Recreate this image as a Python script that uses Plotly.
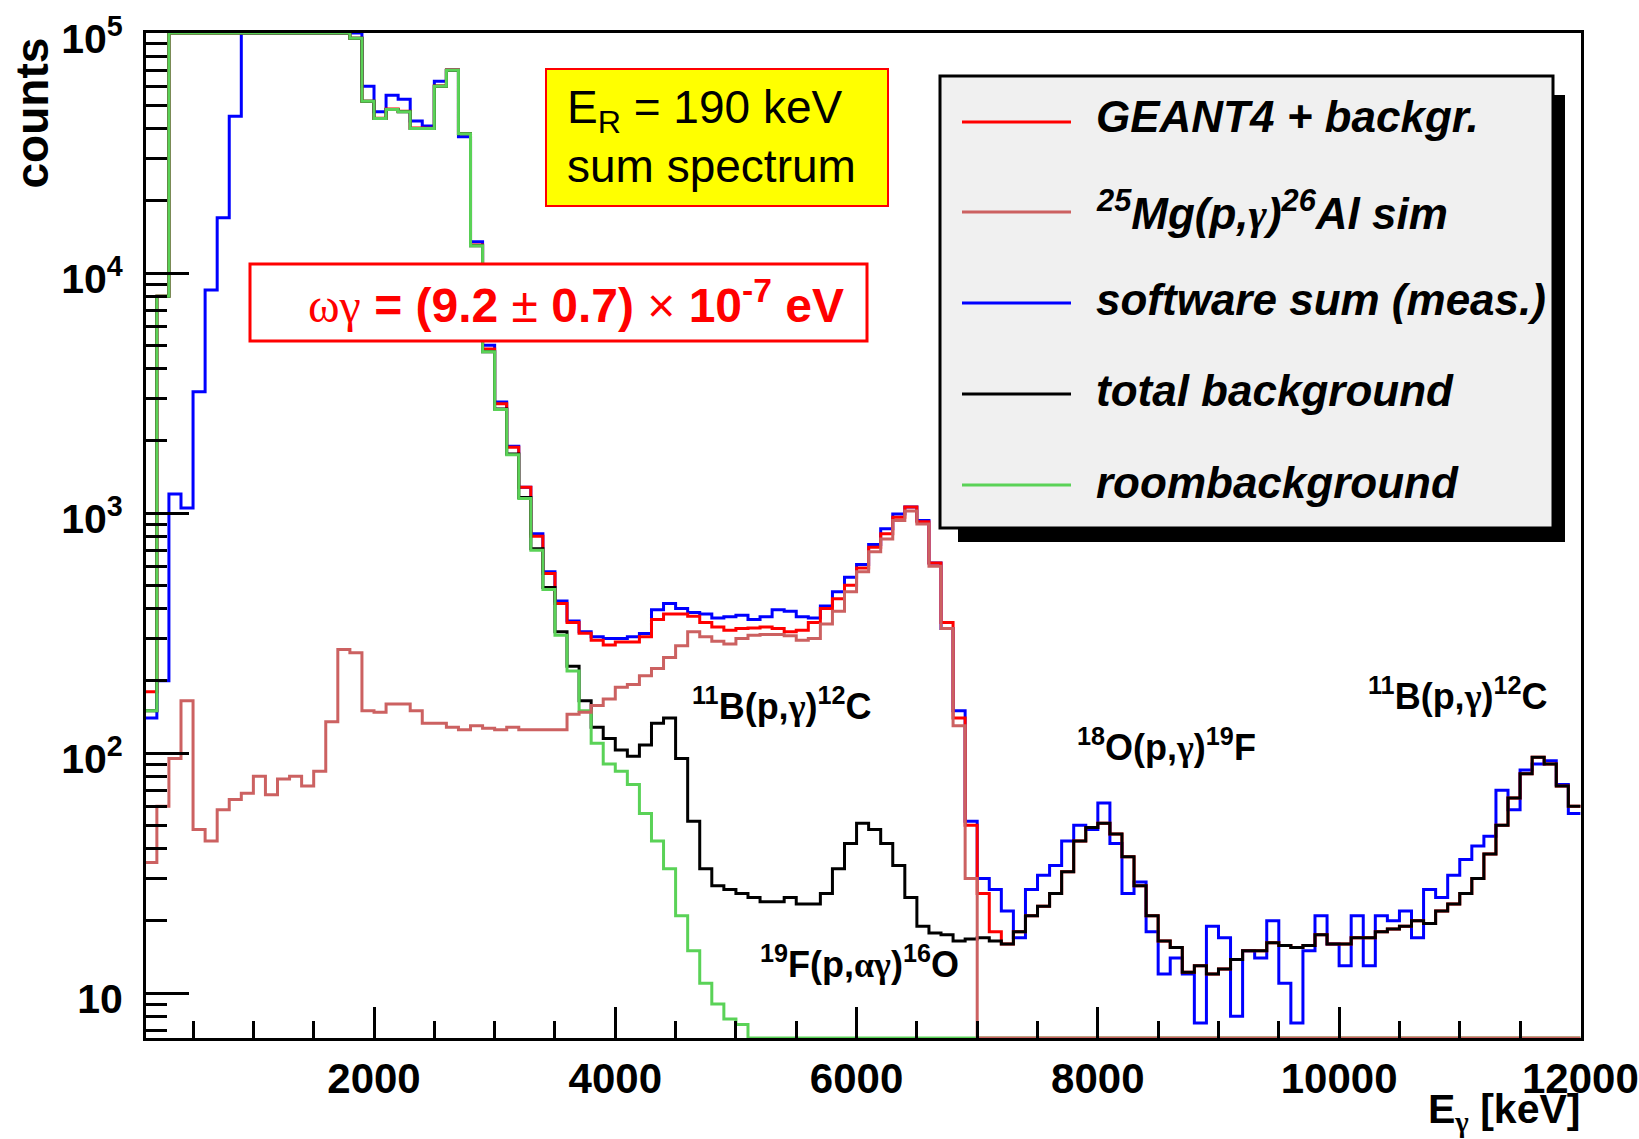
import numpy as np
import plotly.graph_objects as go

# ---------------- data ----------------
# 100 keV histogram bins, lower edge of first bin = 100 keV, 119 bins up to 12000 keV
BIN_LO = 100
BIN_WIDTH = 100
N_BINS = 119

# y-range of the log axis
COUNTS_MIN = 6.5
COUNTS_MAX = 1e5
E_MIN = 110
E_MAX = 12005

# GEANT4 + backgr. (red)
geant4_plus_backgr = [
    180, 8000, 1e5, 1e5, 1e5, 1e5, 1e5, 1e5, 1e5,                           # 100-1000
    1e5, 1e5, 1e5, 1e5, 1e5, 1e5, 1e5, 1e5, 95000, 52000,                    # 1000-2000
    44100, 48200, 47200, 40200, 40100, 60100, 70100, 38100, 13100, 4830,     # 2000-3000
    2850, 1880, 1280, 800, 560, 420, 350, 316, 295, 282,                     # 3000-4000
    290, 290, 305, 360, 380, 380, 372, 350, 335, 325,                        # 4000-5000
    330, 332, 335, 330, 320, 325, 350, 400, 440, 500,                        # 5000-6000
    590, 720, 820, 960, 1060, 920, 620, 350, 140, 50,                        # 6000-7000
    26, 18, 16, 18, 21, 23, 26, 32, 43, 49,                                  # 7000-8000
    51, 46, 37, 28, 21, 16.5, 15.5, 12.2, 13, 12,                            # 8000-9000
    12.6, 13.8, 15, 15, 16.2, 15.8, 15.5, 15.8, 17.5, 16,                    # 9000-10000
    16, 17, 17, 18, 18.5, 19, 20, 19.5, 22, 23.5,                            # 10000-11000
    26, 30, 38, 50, 65, 82, 96, 90, 73, 60,                                  # 11000-12000
]

# 25Mg(p,gamma)26Al sim (rosy)
mg25_sim = [
    35, 60, 95, 165, 48, 43, 58, 64, 68,
    80, 67, 78, 80, 73, 84, 135, 270, 262, 150,
    148, 160, 160, 150, 133, 133, 128, 125, 130, 127,
    125, 128, 125, 125, 125, 125, 145, 148, 158, 168,
    188, 193, 210, 225, 250, 280, 320, 305, 292, 285,
    300, 310, 312, 312, 308, 295, 300, 345, 390, 470,
    570, 690, 780, 930, 1020, 900, 600, 330, 130, 30,
    0, 0, 0, 0, 0, 0, 0, 0, 0, 0,
    0, 0, 0, 0, 0, 0, 0, 0, 0, 0,
    0, 0, 0, 0, 0, 0, 0, 0, 0, 0,
    0, 0, 0, 0, 0, 0, 0, 0, 0, 0,
    0, 0, 0, 0, 0, 0, 0, 0, 0, 0,
]

# software sum (meas.) (blue)
software_sum = [
    140, 200, 1200, 1050, 3200, 8500, 17000, 45000, 1e5,
    1e5, 1e5, 1e5, 1e5, 1e5, 1e5, 1e5, 1e5, 1e5, 60000,
    47000, 55000, 53000, 43000, 41000, 63000, 70000, 37000, 13500, 5000,
    2900, 1900, 1280, 820, 570, 430, 355, 320, 305, 300,
    300, 305, 315, 395, 420, 400, 385, 380, 365, 370,
    375, 360, 370, 395, 390, 370, 365, 410, 470, 540,
    610, 740, 860, 990, 1060, 930, 620, 330, 150, 52,
    30, 27, 22, 17, 27, 31, 34, 43, 50, 48,
    62, 42, 26, 29, 18, 12, 14, 12, 7.5, 19,
    17, 8, 15, 14, 20, 11, 7.5, 15, 21, 16,
    13, 21, 13, 21, 20, 22, 17, 27, 25, 31,
    36, 41, 45, 70, 58, 85, 90, 93, 74, 56,
]

# total background (black)
total_background = [
    150, 8000, 1e5, 1e5, 1e5, 1e5, 1e5, 1e5, 1e5,
    1e5, 1e5, 1e5, 1e5, 1e5, 1e5, 1e5, 1e5, 95000, 52000,
    44000, 48000, 47000, 40000, 40000, 60000, 70000, 38000, 13000, 4700,
    2710, 1760, 1160, 710, 490, 320, 230, 165, 128, 115,
    103, 97, 108, 133, 140, 95, 52, 33, 28, 27,
    26, 25, 24, 24, 25, 23.5, 23.5, 26, 33, 42,
    51, 48, 42, 34, 25, 19, 17.8, 17.5, 16.5, 16.8,
    17, 16.5, 16, 18, 21, 23, 26, 32, 43, 49,
    51, 46, 37, 28, 21, 16.5, 15.5, 12.2, 13, 12,
    12.6, 13.8, 15, 15, 16.2, 15.8, 15.5, 15.8, 17.5, 16,
    16, 17, 17, 18, 18.5, 19, 20, 19.5, 22, 23.5,
    26, 30, 38, 50, 65, 82, 96, 90, 73, 60,
]

# roombackground (green)
room_background = [
    150, 8000, 1e5, 1e5, 1e5, 1e5, 1e5, 1e5, 1e5,
    1e5, 1e5, 1e5, 1e5, 1e5, 1e5, 1e5, 1e5, 95000, 52000,
    44000, 48000, 47000, 40000, 40000, 60000, 70000, 38000, 13000, 4700,
    2700, 1750, 1150, 700, 480, 310, 220, 150, 110, 90,
    84, 74, 56, 43, 33, 21, 15, 11, 9, 7.8,
    7.4, 0, 0, 0, 0, 0, 0, 0, 0, 0,
    0, 0, 0, 0, 0, 0, 0, 0, 0, 0,
    0, 0, 0, 0, 0, 0, 0, 0, 0, 0,
    0, 0, 0, 0, 0, 0, 0, 0, 0, 0,
    0, 0, 0, 0, 0, 0, 0, 0, 0, 0,
    0, 0, 0, 0, 0, 0, 0, 0, 0, 0,
    0, 0, 0, 0, 0, 0, 0, 0, 0, 0,
]

x_tick_values = [2000, 4000, 6000, 8000, 10000, 12000]
x_tick_labels = ["2000", "4000", "6000", "8000", "10000", "12000"]
y_tick_values = [10, 100, 1000, 10000, 100000]
y_tick_labels = ["10", "10<sup>2</sup>", "10<sup>3</sup>", "10<sup>4</sup>", "10<sup>5</sup>"]
y_minor_values = [m * 10 ** d for d in range(0, 5) for m in range(2, 10) if COUNTS_MIN <= m * 10 ** d <= COUNTS_MAX]

SERIF_G = "<span style=\"font-family:'Liberation Serif'\">γ</span>"
SERIF_AG = "<span style=\"font-family:'Liberation Serif'\">αγ</span>"

legend_labels = [
    "GEANT4 + backgr.",
    f"<sup>25</sup>Mg(p,{SERIF_G})<sup>26</sup>Al sim",
    "software sum (meas.)",
    "total background",
    "roombackground",
]

COL_RED = "#ff0000"
COL_ROSY = "#cc6161"
COL_BLUE = "#0000ff"
COL_BLACK = "#000000"
COL_GREEN = "#5ad257"

# ---------------- figure ----------------
W, H = 1639, 1139
PL, PR, PT, PB = 146, 1581, 33, 1038


def px(x):
    return (x - PL) / (PR - PL)


def py(y):
    return (PB - y) / (PB - PT)


edges = BIN_LO + BIN_WIDTH * np.arange(N_BINS + 1)


def hist_xy(vals):
    v = np.asarray(vals, dtype=float)
    v = np.where(v > 0, v, COUNTS_MIN)          # empty bins drawn on the axis floor (as ROOT does)
    v = np.clip(v, COUNTS_MIN, COUNTS_MAX)      # overflow drawn on the frame top
    return edges, np.append(v, v[-1])


fig = go.Figure()
series = [
    ("software sum (meas.)", software_sum, COL_BLUE),
    ("GEANT4 + backgr.", geant4_plus_backgr, COL_RED),
    ("total background", total_background, COL_BLACK),
    ("roombackground", room_background, COL_GREEN),
    ("25Mg(p,γ)26Al sim", mg25_sim, COL_ROSY),
]
for name, vals, col in series:
    x, y = hist_xy(vals)
    fig.add_trace(go.Scatter(x=x, y=y, mode="lines", name=name,
                             line=dict(color=col, width=3, shape="hv"),
                             showlegend=False, hoverinfo="skip"))

FONT = "Liberation Sans, Arial, Helvetica, sans-serif"

fig.update_layout(
    width=W, height=H,
    margin=dict(l=PL, r=W - PR, t=PT, b=H - PB, autoexpand=False),
    paper_bgcolor="white", plot_bgcolor="white",
    showlegend=False,
    font=dict(family=FONT, color="black"),
)
fig.update_xaxes(
    range=[E_MIN, E_MAX], showgrid=False, zeroline=False, automargin=False,
    showline=True, linecolor="black", linewidth=3, mirror=True,
    tickmode="array", tickvals=x_tick_values, ticktext=x_tick_labels,
    ticks="inside", ticklen=31, tickwidth=3, tickcolor="black",
    tickfont=dict(family=FONT, size=42, color="black", weight="bold"),
    ticklabelstandoff=2, ticklabeloverflow="allow",
    minor=dict(tickmode="linear", tick0=0, dtick=500, ticks="inside",
               ticklen=17, tickwidth=3, tickcolor="black", showgrid=False),
)
fig.update_yaxes(
    type="log", range=[np.log10(COUNTS_MIN), np.log10(COUNTS_MAX)],
    showgrid=False, zeroline=False, automargin=False,
    showline=True, linecolor="black", linewidth=3, mirror=True,
    tickmode="array", tickvals=y_tick_values, ticktext=y_tick_labels,
    ticks="inside", ticklen=43, tickwidth=3, tickcolor="black",
    tickfont=dict(family=FONT, size=41, color="black", weight="bold"),
    ticklabelstandoff=12, ticklabelshift=6, ticklabeloverflow="allow",
    minor=dict(tickmode="array", tickvals=y_minor_values, ticks="inside",
               ticklen=21, tickwidth=3, tickcolor="black", showgrid=False),
)

shapes = []
annotations = []

# axis titles
annotations.append(dict(xref="paper", yref="paper", x=px(31), y=py(36),
                        xanchor="center", yanchor="top", textangle=-90, showarrow=False,
                        text="<b>counts</b>", font=dict(family=FONT, size=46, color="black")))
annotations.append(dict(xref="paper", yref="paper", x=px(1582), y=py(1112),
                        xanchor="right", yanchor="middle", showarrow=False,
                        text=f"<b>E<sub>{SERIF_G}</sub> [keV]</b>",
                        font=dict(family=FONT, size=41, color="black")))

# yellow info box
shapes.append(dict(type="rect", xref="paper", yref="paper", layer="above",
                   x0=px(546), x1=px(888), y0=py(206), y1=py(69),
                   fillcolor="#ffff00", line=dict(color="#ff0000", width=2)))
annotations.append(dict(xref="paper", yref="paper", x=px(565), y=py(110),
                        xanchor="left", yanchor="middle", showarrow=False,
                        text="E<sub>R</sub> = 190 keV", font=dict(family=FONT, size=46, color="black")))
annotations.append(dict(xref="paper", yref="paper", x=px(565), y=py(166),
                        xanchor="left", yanchor="middle", showarrow=False,
                        text="sum spectrum", font=dict(family=FONT, size=46, color="black")))

# resonance strength box
shapes.append(dict(type="rect", xref="paper", yref="paper", layer="above",
                   x0=px(250), x1=px(867), y0=py(341), y1=py(264),
                   fillcolor="white", line=dict(color="#ff0000", width=3)))
annotations.append(dict(xref="paper", yref="paper", x=px(576), y=py(302),
                        xanchor="center", yanchor="middle", showarrow=False,
                        text="<b><span style=\"font-family:'Liberation Serif';font-weight:normal\">ωγ</span>"
                             " = (9.2 <span style=\"font-weight:normal\">±</span> 0.7) "
                             "<span style=\"font-weight:normal\">×</span> 10<sup>-7</sup> eV</b>",
                        font=dict(family=FONT, size=48, color="#ff0000")))

# reaction labels
reaction_labels = [
    (f"<b><sup>11</sup>B(p,{SERIF_G})<sup>12</sup>C</b>", 782, 704),
    (f"<b><sup>18</sup>O(p,{SERIF_G})<sup>19</sup>F</b>", 1166, 745),
    (f"<b><sup>11</sup>B(p,{SERIF_G})<sup>12</sup>C</b>", 1458, 694),
    (f"<b><sup>19</sup>F(p,{SERIF_AG})<sup>16</sup>O</b>", 859, 962),
]
for txt, x, y in reaction_labels:
    annotations.append(dict(xref="paper", yref="paper", x=px(x), y=py(y),
                            xanchor="center", yanchor="middle", showarrow=False,
                            text=txt, font=dict(family=FONT, size=36, color="black")))

# legend (ROOT style with shadow)
shapes.append(dict(type="rect", xref="paper", yref="paper", layer="above",
                   x0=px(958), x1=px(1565), y0=py(542), y1=py(95),
                   fillcolor="black", line=dict(color="black", width=0)))
shapes.append(dict(type="rect", xref="paper", yref="paper", layer="above",
                   x0=px(940), x1=px(1553), y0=py(528), y1=py(76),
                   fillcolor="#f0f0f0", line=dict(color="black", width=3)))
legend_colors = [COL_RED, COL_ROSY, COL_BLUE, COL_BLACK, COL_GREEN]
legend_y = [122, 212, 303, 394, 485]
legend_dy = [-5, -1, -3, -4, -3]
for lab, col, ly, dy in zip(legend_labels, legend_colors, legend_y, legend_dy):
    shapes.append(dict(type="line", xref="paper", yref="paper", layer="above",
                       x0=px(962), x1=px(1071), y0=py(ly), y1=py(ly),
                       line=dict(color=col, width=3)))
    annotations.append(dict(xref="paper", yref="paper", x=px(1094), y=py(ly + dy),
                            xanchor="left", yanchor="middle", showarrow=False,
                            text=f"<b><i>{lab}</i></b>",
                            font=dict(family=FONT, size=44, color="black")))

fig.update_layout(shapes=shapes, annotations=annotations)
fig.write_html("out.html")
